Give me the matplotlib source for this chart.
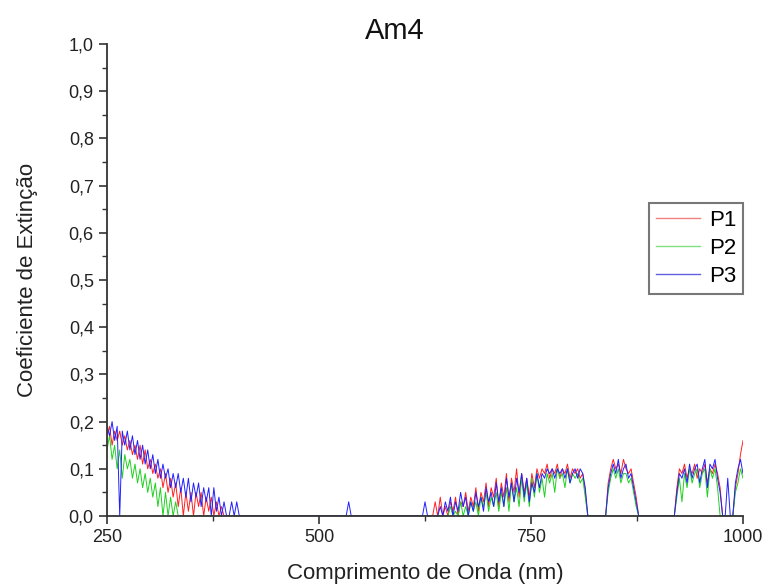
import numpy as np
import matplotlib
matplotlib.use("Agg")
import matplotlib.pyplot as plt
from matplotlib.ticker import MultipleLocator, FixedLocator

plt.rcParams['font.family'] = ['Liberation Sans', 'DejaVu Sans']

# ---- data (wavelength nm, extinction coefficient) ----
x_a = [250, 253, 256, 259, 262, 265, 268, 271, 274, 277, 280, 283, 286, 289, 292, 295, 298, 301,
       304, 307, 310, 313, 316, 319, 322, 325, 328, 331, 334, 337, 340, 343, 346, 349, 352, 355,
       358, 361, 364, 367, 370, 373, 376, 379, 382, 385, 388, 391, 394, 397, 400, 403, 406, 409]
x_mid = [412, 532, 535, 538, 619]
x_b = [622, 625, 628, 631, 634, 637, 640, 643, 646, 649,
       652, 655, 658, 661, 664, 667, 670, 673, 676, 679,
       682, 685, 688, 691, 694, 697, 700, 703, 706, 709,
       712, 715, 718, 721, 724, 727, 730, 733, 736, 739,
       742, 745, 748, 751, 754, 757, 760, 763, 766, 769,
       772, 775, 778, 781, 784, 787, 790, 793, 796, 799,
       802, 805, 808, 811, 814, 817, 820, 823, 826, 829,
       832, 835, 838, 841, 844, 847, 850, 853, 856, 859,
       862, 865, 868, 871, 874, 877, 880, 883, 886, 889,
       892, 895, 898, 901, 904, 907, 910, 913, 916, 919,
       922, 925, 928, 931, 934, 937, 940, 943, 946, 949,
       952, 955, 958, 961, 964, 967, 970, 973, 976, 979,
       982, 985, 988, 991, 994, 997, 1000]

p1_a = [0.17, 0.19, 0.15, 0.18, 0.16, 0.18, 0.15, 0.17, 0.14, 0.16, 0.13, 0.15, 0.12, 0.15, 0.11, 0.14, 0.10, 0.12,
        0.09, 0.11, 0.08, 0.10, 0.06, 0.09, 0.05, 0.08, 0.04, 0.07, 0.02, 0.06, 0.00, 0.05, 0.01, 0.05, 0.00, 0.05,
        0.02, 0.05, 0.00, 0.04, 0.01, 0.04, 0.00, 0.03, 0.00, 0.02, 0.00, 0.00, 0.00, 0.00, 0.00, 0.00, 0.00, 0.00]
p2_a = [0.14, 0.17, 0.12, 0.15, 0.10, 0.14, 0.08, 0.13, 0.10, 0.12, 0.08, 0.11, 0.07, 0.10, 0.06, 0.09, 0.05, 0.08,
        0.04, 0.07, 0.02, 0.06, 0.00, 0.05, 0.00, 0.04, 0.00, 0.03, 0.00, 0.00, 0.00, 0.00, 0.00, 0.00, 0.00, 0.00,
        0.00, 0.00, 0.00, 0.00, 0.00, 0.00, 0.00, 0.00, 0.00, 0.00, 0.00, 0.00, 0.00, 0.00, 0.00, 0.00, 0.00, 0.00]
p3_a = [0.19, 0.17, 0.20, 0.16, 0.19, 0.00, 0.18, 0.15, 0.18, 0.14, 0.17, 0.13, 0.16, 0.12, 0.15, 0.11, 0.14, 0.10,
        0.13, 0.09, 0.12, 0.08, 0.11, 0.08, 0.10, 0.06, 0.09, 0.06, 0.09, 0.05, 0.08, 0.04, 0.08, 0.03, 0.07, 0.04,
        0.07, 0.02, 0.06, 0.03, 0.06, 0.00, 0.06, 0.01, 0.04, 0.00, 0.03, 0.00, 0.00, 0.03, 0.00, 0.03, 0.00, 0.00]

p1_mid = [0.0, 0.0, 0.0, 0.0, 0.0]
p2_mid = [0.0, 0.0, 0.0, 0.0, 0.0]
p3_mid = [0.0, 0.0, 0.03, 0.0, 0.0]

p1_b = [0.00, 0.00, 0.00, 0.00, 0.00, 0.03, 0.00, 0.04, 0.00, 0.02,
        0.00, 0.03, 0.01, 0.04, 0.00, 0.03, 0.02, 0.05, 0.01, 0.04,
        0.02, 0.06, 0.01, 0.05, 0.03, 0.07, 0.02, 0.06, 0.04, 0.08,
        0.02, 0.07, 0.04, 0.09, 0.03, 0.08, 0.05, 0.10, 0.04, 0.09,
        0.05, 0.08, 0.04, 0.09, 0.06, 0.10, 0.08, 0.10, 0.09, 0.11,
        0.08, 0.10, 0.09, 0.11, 0.08, 0.10, 0.09, 0.11, 0.08, 0.10,
        0.09, 0.10, 0.08, 0.09, 0.05, 0.00, 0.00, 0.00, 0.00, 0.00,
        0.00, 0.00, 0.00, 0.07, 0.10, 0.12, 0.10, 0.11, 0.09, 0.12,
        0.10, 0.09, 0.10, 0.07, 0.04, 0.00, 0.00, 0.00, 0.00, 0.00,
        0.00, 0.00, 0.00, 0.00, 0.00, 0.00, 0.00, 0.00, 0.00, 0.00,
        0.06, 0.10, 0.09, 0.11, 0.08, 0.10, 0.09, 0.11, 0.08, 0.10,
        0.09, 0.11, 0.07, 0.10, 0.09, 0.11, 0.09, 0.06, 0.00, 0.00,
        0.00, 0.00, 0.00, 0.06, 0.09, 0.13, 0.16]
p2_b = [0.00, 0.00, 0.00, 0.00, 0.00, 0.00, 0.00, 0.00, 0.00, 0.00,
        0.00, 0.02, 0.00, 0.01, 0.00, 0.03, 0.00, 0.02, 0.00, 0.03,
        0.01, 0.03, 0.00, 0.04, 0.02, 0.05, 0.01, 0.04, 0.02, 0.05,
        0.01, 0.05, 0.02, 0.06, 0.01, 0.07, 0.03, 0.06, 0.02, 0.08,
        0.03, 0.07, 0.02, 0.08, 0.04, 0.09, 0.05, 0.08, 0.04, 0.09,
        0.07, 0.09, 0.05, 0.10, 0.08, 0.09, 0.06, 0.10, 0.07, 0.09,
        0.08, 0.09, 0.07, 0.08, 0.04, 0.00, 0.00, 0.00, 0.00, 0.00,
        0.00, 0.00, 0.00, 0.05, 0.08, 0.10, 0.08, 0.10, 0.07, 0.09,
        0.09, 0.07, 0.08, 0.05, 0.02, 0.00, 0.00, 0.00, 0.00, 0.00,
        0.00, 0.00, 0.00, 0.00, 0.00, 0.00, 0.00, 0.00, 0.00, 0.00,
        0.04, 0.08, 0.03, 0.09, 0.06, 0.10, 0.07, 0.09, 0.10, 0.06,
        0.09, 0.10, 0.04, 0.10, 0.08, 0.10, 0.06, 0.00, 0.00, 0.00,
        0.00, 0.00, 0.00, 0.05, 0.07, 0.10, 0.08]
p3_b = [0.00, 0.03, 0.00, 0.00, 0.00, 0.00, 0.00, 0.02, 0.00, 0.03,
        0.01, 0.04, 0.00, 0.03, 0.01, 0.05, 0.02, 0.04, 0.00, 0.03,
        0.01, 0.05, 0.02, 0.04, 0.01, 0.06, 0.03, 0.05, 0.02, 0.07,
        0.03, 0.06, 0.02, 0.08, 0.04, 0.07, 0.03, 0.08, 0.05, 0.09,
        0.04, 0.08, 0.03, 0.07, 0.05, 0.09, 0.06, 0.09, 0.08, 0.10,
        0.09, 0.10, 0.08, 0.10, 0.09, 0.10, 0.08, 0.10, 0.07, 0.09,
        0.10, 0.08, 0.10, 0.09, 0.06, 0.00, 0.00, 0.00, 0.00, 0.00,
        0.00, 0.00, 0.00, 0.06, 0.09, 0.11, 0.09, 0.12, 0.08, 0.10,
        0.11, 0.08, 0.09, 0.06, 0.03, 0.00, 0.00, 0.00, 0.00, 0.00,
        0.00, 0.00, 0.00, 0.00, 0.00, 0.00, 0.00, 0.00, 0.00, 0.00,
        0.05, 0.09, 0.08, 0.10, 0.07, 0.11, 0.08, 0.10, 0.11, 0.07,
        0.10, 0.12, 0.06, 0.11, 0.10, 0.12, 0.08, 0.05, 0.00, 0.00,
        0.08, 0.00, 0.00, 0.07, 0.10, 0.12, 0.09]

series_labels = ["P1", "P2", "P3"]
series_colors = ["#ff2020", "#20d020", "#2020ff"]

x_all = x_a + x_mid + x_b
series = [p1_a + p1_mid + p1_b, p2_a + p2_mid + p2_b, p3_a + p3_mid + p3_b]

fig = plt.figure(figsize=(7.68, 5.87), dpi=100)
ax = fig.add_axes([107/768, 1 - 516/587, (743-107)/768, (516-44)/587])

for y, lab, col in zip(series, series_labels, series_colors):
    ax.plot(x_all, y, color=col, lw=0.7, label=lab)

ax.set_xlim(250, 1000)
ax.set_ylim(0, 1.0)
ax.xaxis.set_major_locator(FixedLocator([250, 500, 750, 1000]))
ax.xaxis.set_minor_locator(FixedLocator([375, 625, 875]))
ax.yaxis.set_major_locator(MultipleLocator(0.1))
ax.yaxis.set_minor_locator(MultipleLocator(0.05))
ax.yaxis.set_major_formatter(matplotlib.ticker.FuncFormatter(lambda v, p: f"{v:.1f}".replace(".", ",")))

for s in ["top", "right"]:
    ax.spines[s].set_visible(False)
for s in ["left", "bottom"]:
    ax.spines[s].set_color("#333333")
    ax.spines[s].set_linewidth(1.3)
ax.tick_params(which="major", direction="out", length=6, width=1.2, colors="#333333",
               labelsize=13, labelcolor="#222222")
ax.tick_params(which="minor", direction="out", length=3.5, width=1.0, colors="#333333")

ax.set_xlabel("Comprimento de Onda (nm)", fontsize=16, color="#222222", labelpad=12)
ax.set_ylabel("Coeficiente de Extinção", fontsize=16, color="#222222", labelpad=22)
fig.text(395/768, 1 - 31/587, "Am4", fontsize=21, ha="center", va="center", color="#111111")

leg = ax.legend(loc="upper right", bbox_to_anchor=(1.0, (516-203)/472), borderaxespad=0,
                fontsize=16, frameon=True, fancybox=False, handlelength=2.0,
                handletextpad=0.4, labelspacing=0.32, borderpad=0.3)
leg.get_frame().set_edgecolor("#555555")
leg.get_frame().set_linewidth(1.5)
for line, c in zip(leg.get_lines(), ["#f08080", "#80e080", "#6060e0"]):
    line.set_color(c)
    line.set_linewidth(1.0)

fig.savefig("out.png", dpi=100)
